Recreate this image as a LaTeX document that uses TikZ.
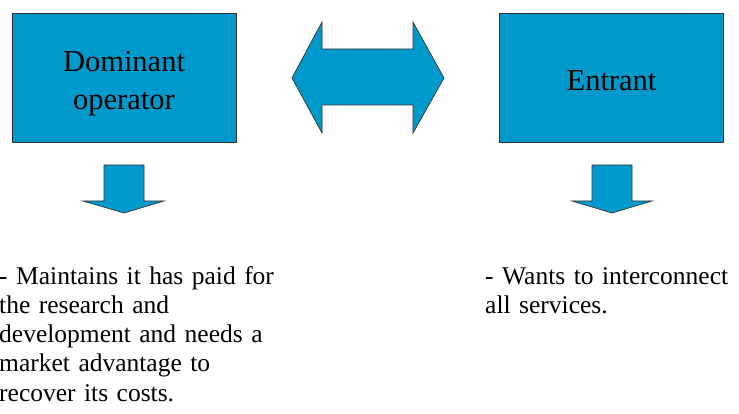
\documentclass[tikz,border=0pt]{standalone}
\usepackage{fontspec}
\setmainfont{Liberation Serif}
\definecolor{boxblue}{HTML}{0099CC}
\begin{document}
\begin{tikzpicture}[x=1pt,y=-1pt,
  blueshape/.style={fill=boxblue,draw=black!80,line width=0.7pt},
  partybox/.style={blueshape,minimum width=224pt,minimum height=129pt,inner sep=0pt},
  boxtext/.style={inner sep=0pt,text width=224pt,align=center,anchor=base,
    font=\fontsize{30.5pt}{38pt}\selectfont},
  note/.style={inner sep=0pt,text width=320pt,align=left,anchor=base west,
    font=\fontsize{25.5pt}{29.3pt}\selectfont}]
\useasboundingbox (0,0) rectangle (739,414);
\node[partybox] (dom) at (124,77.5) {};
\node[boxtext] (domlabel) at (124,72) {Dominant\\operator};
\node[partybox] (ent) at (611.5,77.5) {};
\node[boxtext] (entlabel) at (611.5,91) {Entrant};
% double arrow between the parties
\draw[blueshape] (292,78) -- (322,22) -- (322,49) -- (413,49) -- (413,22) -- (444,78)
  -- (413,133) -- (413,105) -- (322,105) -- (322,133) -- cycle;
% down arrows
\draw[blueshape] (104,165) -- (144,165) -- (144,201) -- (164,201) -- (124,213) -- (83,201) -- (104,201) -- cycle;
\draw[blueshape] (592,165) -- (632,165) -- (632,201) -- (652,201) -- (612,213) -- (572,201) -- (592,201) -- cycle;
\node[note] (domnote) at (-1,284) {- Maintains it has paid for\\the research and\\development and needs a\\market advantage to\\recover its costs.};
\node[note] (entnote) at (485,284.5) {- Wants to interconnect\\all services.};
\end{tikzpicture}
\end{document}
